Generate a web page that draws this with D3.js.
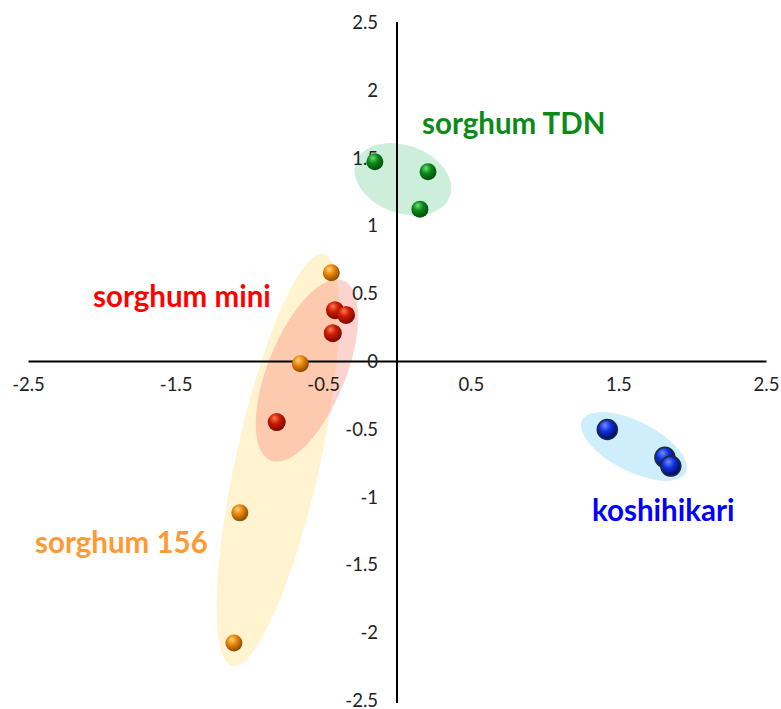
<!DOCTYPE html>
<html>
<head>
<meta charset="utf-8">
<script src="https://cdn.jsdelivr.net/npm/d3@7"></script>
<style>
  html, body { margin: 0; padding: 0; background: #fff; }
  svg { display: block; }
  .tick-label { font-family: Lato, "Open Sans", sans-serif; font-size: 18.5px; fill: #222; }
  .group-label { font-family: Lato, "Open Sans", sans-serif; font-weight: 700; }
</style>
</head>
<body>
<svg id="chart" width="781" height="709"></svg>
<script>
// Score plot: PC1 (x) against PC2 (y) for four cultivars
const groups = ["sorghum TDN", "sorghum mini", "sorghum 156", "koshihikari"];

const tdnX  = [-0.15, 0.21, 0.155];
const tdnY  = [1.47, 1.395, 1.12];
const miniX = [-0.42, -0.345, -0.435, -0.815];
const miniY = [0.375, 0.34, 0.205, -0.45];
const s156X = [-0.445, -0.655, -1.065, -1.105];
const s156Y = [0.65, -0.02, -1.12, -2.08];
const koshX = [1.425, 1.815, 1.855];
const koshY = [-0.505, -0.71, -0.775];

const xTicks = [-2.5, -1.5, -0.5, 0.5, 1.5, 2.5];
const yTicks = [2.5, 2, 1.5, 1, 0.5, 0, -0.5, -1, -1.5, -2, -2.5];

// Group ellipses: centre in data units
const ellipseCX = [0.04, -0.61, -0.806, 1.605];
const ellipseCY = [1.34, -0.07, -0.73, -0.63];

const svg = d3.select("#chart");
const x = d3.scaleLinear().domain([-2.5, 2.5]).range([28, 766]);
const y = d3.scaleLinear().domain([-2.5, 2.5]).range([700, 22]);

const style = {
  "sorghum TDN":  { base: "#0a8a1a", light: "#6fe07a", dark: "#034d0a", rim: "none", r: 8.5,
                    fill: "rgba(120,210,160,0.38)", ell: [50, 34, 20], text: "#0b8a17",
                    lx: 422, ly: 134 },
  "sorghum mini": { base: "#cc1a00", light: "#ff7a55", dark: "#7a0800", rim: "none", r: 9,
                    fill: "rgba(250,110,100,0.30)", ell: [39, 97, 22], text: "#ff0000",
                    lx: 93, ly: 307 },
  "sorghum 156":  { base: "#e8860c", light: "#ffd27a", dark: "#8a4a00", rim: "none", r: 8.5,
                    fill: "rgba(255,228,150,0.45)", ell: [42, 211, 12.5], text: "#ff9933",
                    lx: 35, ly: 553 },
  "koshihikari":  { base: "#1030e0", light: "#6f8cff", dark: "#000a60", rim: "#1c2a3a", r: 10,
                    fill: "rgba(150,220,245,0.48)", ell: [58, 25, 27], text: "#0000ff",
                    lx: 592, ly: 521 }
};

const series = [
  { name: groups[0], xs: tdnX,  ys: tdnY },
  { name: groups[1], xs: miniX, ys: miniY },
  { name: groups[2], xs: s156X, ys: s156Y },
  { name: groups[3], xs: koshX, ys: koshY }
];

// Sphere gradients
const defs = svg.append("defs");
series.forEach((s, i) => {
  const st = style[s.name];
  const g = defs.append("radialGradient")
    .attr("id", "ball" + i)
    .attr("cx", "40%").attr("cy", "35%").attr("r", "65%")
    .attr("fx", "38%").attr("fy", "28%");
  g.append("stop").attr("offset", "0%").attr("stop-color", st.light);
  g.append("stop").attr("offset", "45%").attr("stop-color", st.base);
  g.append("stop").attr("offset", "100%").attr("stop-color", st.dark);
});

// Ellipses (drawn in order so the mini ellipse sits over the 156 one)
const ellOrder = [2, 1, 0, 3];
svg.append("g").selectAll("ellipse")
  .data(ellOrder)
  .join("ellipse")
  .attr("transform", i => `translate(${x(ellipseCX[i])},${y(ellipseCY[i])}) rotate(${style[groups[i]].ell[2]})`)
  .attr("rx", i => style[groups[i]].ell[0])
  .attr("ry", i => style[groups[i]].ell[1])
  .attr("fill", i => style[groups[i]].fill);

// Axes crossing at the origin
const fmt = d => d3.format("")(d).replace("−", "-");
const xAxis = svg.append("g").attr("transform", `translate(0,${y(0)})`)
  .call(d3.axisBottom(x).tickValues(xTicks).tickSize(0).tickFormat(fmt));
xAxis.select(".domain").attr("stroke", "#000").attr("stroke-width", 2);
xAxis.selectAll(".tick text").attr("class", "tick-label").attr("dy", "1.45em");

const yAxis = svg.append("g").attr("transform", `translate(${x(0)},0)`)
  .call(d3.axisLeft(y).tickValues(yTicks).tickSize(0).tickFormat(fmt));
yAxis.select(".domain").attr("stroke", "#000").attr("stroke-width", 2)
  .attr("d", `M0,${y(2.5)}V${y(-2.5) + 3}`);
yAxis.selectAll(".tick text").attr("class", "tick-label").attr("x", -19).attr("dy", "0.35em");

// Points
series.forEach((s, i) => {
  const st = style[s.name];
  svg.append("g").selectAll("circle")
    .data(s.xs.map((v, k) => [v, s.ys[k]]))
    .join("circle")
    .attr("cx", d => x(d[0]))
    .attr("cy", d => y(d[1]))
    .attr("r", st.r)
    .attr("fill", `url(#ball${i})`)
    .attr("stroke", st.rim)
    .attr("stroke-width", st.rim === "none" ? 0 : 1.5);
});

// Group labels
svg.append("g").selectAll("text")
  .data(groups)
  .join("text")
  .attr("class", "group-label")
  .attr("x", d => style[d].lx)
  .attr("y", d => style[d].ly)
  .attr("fill", d => style[d].text)
  .attr("font-size", 29.5)
  .text(d => d);
</script>
</body>
</html>
